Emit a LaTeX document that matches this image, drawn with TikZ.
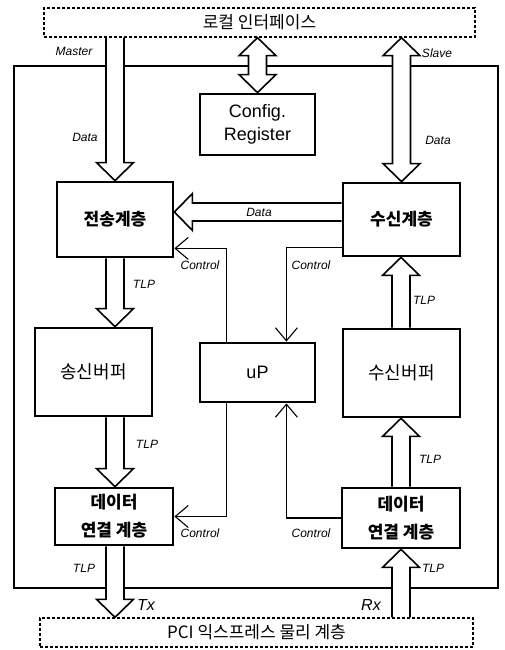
\documentclass[tikz,border=0pt]{standalone}
\usepackage{fontspec}
\setmainfont{Liberation Sans}
\newfontfamily\kr{Noto Sans CJK KR}
\usetikzlibrary{arrows.meta, calc, backgrounds}

\begin{document}
\begin{tikzpicture}[x=1pt, y=-1pt,
  layer/.style={draw, line width=2.8pt, inner sep=0pt, align=center, font=\kr\bfseries\fontsize{17}{28}\selectfont},
  unit/.style={draw, line width=2.8pt, inner sep=0pt, align=center, font=\kr\fontsize{18}{22}\selectfont},
  iface/.style={draw, dash pattern=on 3pt off 2pt, line width=1.4pt, minimum height=29pt, inner sep=0pt, font=\kr\fontsize{17}{20}\selectfont},
  lbl/.style={font=\itshape\fontsize{12}{12}\selectfont, inner sep=0pt},
  ctrl/.style={line width=1.1pt, -{Straight Barb[length=13pt, width=22pt]}},
  fat/.style={fill=white, line width=1.6pt, to path={
    ($(\tikztostart)!9pt!90:(\tikztotarget)$)
    -- ($($(\tikztotarget)!18pt!(\tikztostart)$)!9pt!-90:(\tikztostart)$)
    -- ($($(\tikztotarget)!18pt!(\tikztostart)$)!18.5pt!-90:(\tikztostart)$)
    -- (\tikztotarget)
    -- ($($(\tikztotarget)!18pt!(\tikztostart)$)!18.5pt!90:(\tikztostart)$)
    -- ($($(\tikztotarget)!18pt!(\tikztostart)$)!9pt!90:(\tikztostart)$)
    -- ($(\tikztostart)!9pt!-90:(\tikztotarget)$)}},
  fatboth/.style={fill=white, line width=1.6pt, to path={
    (\tikztostart)
    -- ($($(\tikztostart)!18pt!(\tikztotarget)$)!18.5pt!90:(\tikztotarget)$)
    -- ($($(\tikztostart)!18pt!(\tikztotarget)$)!9pt!90:(\tikztotarget)$)
    -- ($($(\tikztotarget)!18pt!(\tikztostart)$)!9pt!-90:(\tikztostart)$)
    -- ($($(\tikztotarget)!18pt!(\tikztostart)$)!18.5pt!-90:(\tikztostart)$)
    -- (\tikztotarget)
    -- ($($(\tikztotarget)!18pt!(\tikztostart)$)!18.5pt!90:(\tikztostart)$)
    -- ($($(\tikztotarget)!18pt!(\tikztostart)$)!9pt!90:(\tikztostart)$)
    -- ($($(\tikztostart)!18pt!(\tikztotarget)$)!9pt!-90:(\tikztotarget)$)
    -- ($($(\tikztostart)!18pt!(\tikztotarget)$)!18.5pt!-90:(\tikztotarget)$)
    -- cycle}}
]
\useasboundingbox (0,0) rectangle (505,650);

\node[iface, minimum width=431] (local) at (259.5,22.5) {로컬 인터페이스};
\node[iface, minimum width=433] (phy) at (256.5,632.5) {PCI 익스프레스 물리 계층};

\node[unit, minimum width=115, minimum height=61, font=\fontsize{18}{23}\selectfont] (config) at (257.5,124.5) {Config.\\Register};
\node[layer, minimum width=116, minimum height=75] (trans) at (115,219.5) {전송계층};
\node[layer, minimum width=117, minimum height=73] (recv) at (401.5,219.5) {수신계층};
\node[unit, minimum width=117, minimum height=88] (txbuf) at (93.5,372) {송신버퍼};
\node[unit, minimum width=115, minimum height=59, font=\fontsize{18}{22}\selectfont] (up) at (257.5,372.5) {uP};
\node[unit, minimum width=117, minimum height=88] (rxbuf) at (401.5,373) {수신버퍼};
\node[layer, minimum width=118, minimum height=57] (dltx) at (114,516.5) {데이터\\연결 계층};
\node[layer, minimum width=118, minimum height=60] (dlrx) at (401,518) {데이터\\연결 계층};

\begin{scope}[on background layer]
\node[draw, line width=1.4pt, minimum width=484, minimum height=522] (chip) at (256,327) {};
\filldraw[fat] (local.south -| trans.north) to (trans.north);
\filldraw[fatboth] (local.south -| config.north) to (config.north);
\filldraw[fatboth] (recv.north) to (local.south -| recv.north);
\filldraw[fat] ([yshift=7.5pt]recv.west) to ([yshift=7.5pt]trans.east);
\filldraw[fat] (trans.south) to (txbuf.north -| trans.south);
\filldraw[fat] (txbuf.south -| trans.south) to (dltx.north -| trans.south);
\filldraw[fat] (dltx.south -| trans.south) to (phy.north -| trans.south);
\filldraw[fat] (phy.north -| dlrx.south) to (dlrx.south);
\filldraw[fat] (dlrx.north) to (rxbuf.south -| dlrx.north);
\filldraw[fat] (rxbuf.north -| dlrx.north) to (recv.south -| dlrx.north);
\end{scope}

\draw[ctrl] ([xshift=28pt]up.north west) |- ([yshift=10pt]trans.south east);
\draw[ctrl] ([yshift=10pt]recv.south west) -| ([xshift=-30pt]up.north east);
\draw[ctrl] ([xshift=28pt]up.south west) |- (dltx.east);
\draw[ctrl] (dlrx.west) -| ([xshift=-30pt]up.south east);

\node[lbl] (lmaster) at (74,51) {Master};
\node[lbl] (ldatal) at (85,137) {Data};
\node[lbl] (lslave) at (437,53) {Slave};
\node[lbl] (ldatar) at (438,140) {Data};
\node[lbl] (ldatam) at (259,212) {Data};
\node[lbl] (lctrl1) at (200,265) {Control};
\node[lbl] (lctrl2) at (311,265) {Control};
\node[lbl] (lctrl3) at (200,533) {Control};
\node[lbl] (lctrl4) at (311,533) {Control};
\node[lbl] (ltlp1) at (144,284) {TLP};
\node[lbl] (ltlp2) at (147,444) {TLP};
\node[lbl] (ltlp3) at (84,568) {TLP};
\node[lbl] (ltlp4) at (433,568) {TLP};
\node[lbl] (ltlp5) at (430,459) {TLP};
\node[lbl] (ltlp6) at (424,300) {TLP};
\node[lbl, font=\itshape\fontsize{16}{16}\selectfont] (ltx) at (146,605) {Tx};
\node[lbl, font=\itshape\fontsize{16}{16}\selectfont] (lrx) at (371,605) {Rx};
\end{tikzpicture}
\end{document}
